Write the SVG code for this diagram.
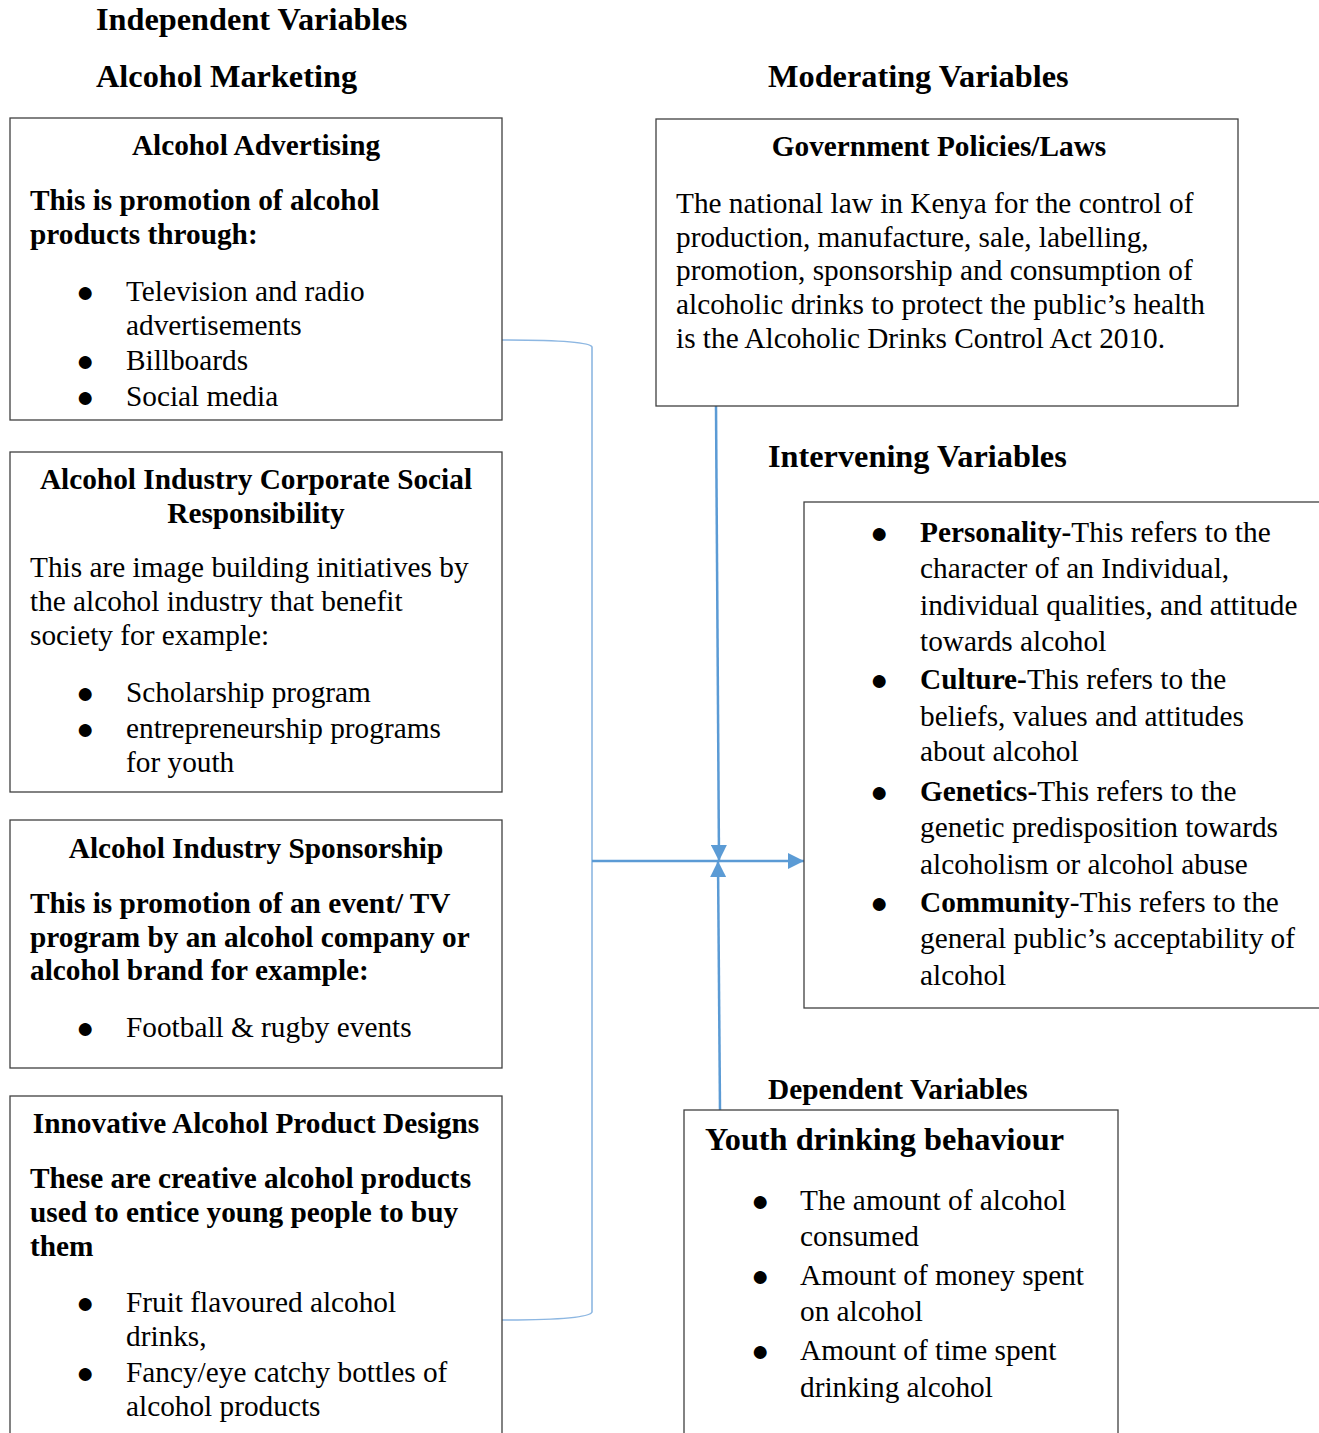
<svg xmlns="http://www.w3.org/2000/svg" width="1319" height="1433" viewBox="0 0 1319 1433">
<defs>
<style>
text{font-family:"Liberation Serif","Times New Roman",serif;font-size:29.3px;fill:#000}
.b{font-weight:bold}
.c{text-anchor:middle}
.h{font-size:32.3px;font-weight:bold}
.u{font-size:30px;text-anchor:middle}
.box{fill:#fff;stroke:#404040;stroke-width:1.3}
.br{fill:none;stroke:#8db7e2;stroke-width:1.6}
.ar{fill:none;stroke:#5b9bd5;stroke-width:2.5}
</style>
<marker id="ahb" viewBox="0 0 10 10" refX="10" refY="5" markerWidth="16" markerHeight="16" markerUnits="userSpaceOnUse" orient="auto">
<path d="M0,0 L10,5 L0,10 z" fill="#5b9bd5"/>
</marker>
</defs>
<rect width="1319" height="1433" fill="#fff"/>

<g id="headings">
<text class="h" x="96" y="30">Independent Variables</text>
<text class="h" x="96" y="87">Alcohol Marketing</text>
<text class="h" x="768" y="87">Moderating Variables</text>
<text class="h" x="768" y="467">Intervening Variables</text>
<text class="b" x="768" y="1099">Dependent Variables</text>
</g>

<g id="connectors">
<path class="br" d="M502,340 C560,340 590,342 592,347 L592,1312 C590,1317 560,1320 502,1320"/>
<line class="ar" x1="592" y1="861" x2="804" y2="861" marker-end="url(#ahb)"/>
<line class="ar" x1="716" y1="406" x2="719" y2="861" marker-end="url(#ahb)"/>
<line class="ar" x1="720" y1="1110" x2="718" y2="861" marker-end="url(#ahb)"/>
</g>

<g id="advertising">
<rect class="box" x="10" y="118" width="492" height="302"/>
<text class="b c" x="256" y="155">Alcohol Advertising</text>
<text class="b" x="30" y="210">This is promotion of alcohol</text>
<text class="b" x="30" y="244">products through:</text>
<text class="u" x="85" y="302">●</text><text x="126" y="301">Television and radio</text>
<text x="126" y="335">advertisements</text>
<text class="u" x="85" y="371">●</text><text x="126" y="370">Billboards</text>
<text class="u" x="85" y="407">●</text><text x="126" y="406">Social media</text>
</g>

<g id="csr">
<rect class="box" x="10" y="452" width="492" height="340"/>
<text class="b c" x="256" y="489">Alcohol Industry Corporate Social</text>
<text class="b c" x="256" y="523">Responsibility</text>
<text x="30" y="577">This are image building initiatives by</text>
<text x="30" y="611">the alcohol industry that benefit</text>
<text x="30" y="645">society for example:</text>
<text class="u" x="85" y="703">●</text><text x="126" y="702">Scholarship program</text>
<text class="u" x="85" y="739">●</text><text x="126" y="738">entrepreneurship programs</text>
<text x="126" y="772">for youth</text>
</g>

<g id="sponsorship">
<rect class="box" x="10" y="820" width="492" height="248"/>
<text class="b c" x="256" y="858">Alcohol Industry Sponsorship</text>
<text class="b" x="30" y="913">This is promotion of an event/ TV</text>
<text class="b" x="30" y="947">program by an alcohol company or</text>
<text class="b" x="30" y="980">alcohol brand for example:</text>
<text class="u" x="85" y="1038">●</text><text x="126" y="1037">Football &amp; rugby events</text>
</g>

<g id="design">
<rect class="box" x="10" y="1096" width="492" height="360"/>
<text class="b c" x="256" y="1133">Innovative Alcohol Product Designs</text>
<text class="b" x="30" y="1188">These are creative alcohol products</text>
<text class="b" x="30" y="1222">used to entice young people to buy</text>
<text class="b" x="30" y="1256">them</text>
<text class="u" x="85" y="1313">●</text><text x="126" y="1312">Fruit flavoured alcohol</text>
<text x="126" y="1346">drinks,</text>
<text class="u" x="85" y="1383">●</text><text x="126" y="1382">Fancy/eye catchy bottles of</text>
<text x="126" y="1416">alcohol products</text>
</g>

<g id="government">
<rect class="box" x="656" y="119" width="582" height="287"/>
<text class="b c" x="939" y="156">Government Policies/Laws</text>
<text x="676" y="213">The national law in Kenya for the control of</text>
<text x="676" y="247">production, manufacture, sale, labelling,</text>
<text x="676" y="280">promotion, sponsorship and consumption of</text>
<text x="676" y="314">alcoholic drinks to protect the public’s health</text>
<text x="676" y="348">is the Alcoholic Drinks Control Act 2010.</text>
</g>

<g id="intervening">
<rect class="box" x="804" y="502" width="530" height="506"/>
<text class="u" x="879" y="543">●</text><text x="920" y="542"><tspan class="b">Personality-</tspan>This refers to the</text>
<text x="920" y="578">character of an Individual,</text>
<text x="920" y="615">individual qualities, and attitude</text>
<text x="920" y="651">towards alcohol</text>
<text class="u" x="879" y="690">●</text><text x="920" y="689"><tspan class="b">Culture-</tspan>This refers to the</text>
<text x="920" y="726">beliefs, values and attitudes</text>
<text x="920" y="761">about alcohol</text>
<text class="u" x="879" y="802">●</text><text x="920" y="801"><tspan class="b">Genetics-</tspan>This refers to the</text>
<text x="920" y="837">genetic predisposition towards</text>
<text x="920" y="874">alcoholism or alcohol abuse</text>
<text class="u" x="879" y="913">●</text><text x="920" y="912"><tspan class="b">Community</tspan>-This refers to the</text>
<text x="920" y="948">general public’s acceptability of</text>
<text x="920" y="985">alcohol</text>
</g>

<g id="dependent">
<rect class="box" x="684" y="1110" width="434" height="360"/>
<text class="h" x="705" y="1150">Youth drinking behaviour</text>
<text class="u" x="760" y="1211">●</text><text x="800" y="1210">The amount of alcohol</text>
<text x="800" y="1246">consumed</text>
<text class="u" x="760" y="1286">●</text><text x="800" y="1285">Amount of money spent</text>
<text x="800" y="1321">on alcohol</text>
<text class="u" x="760" y="1361">●</text><text x="800" y="1360">Amount of time spent</text>
<text x="800" y="1397">drinking alcohol</text>
</g>
</svg>
